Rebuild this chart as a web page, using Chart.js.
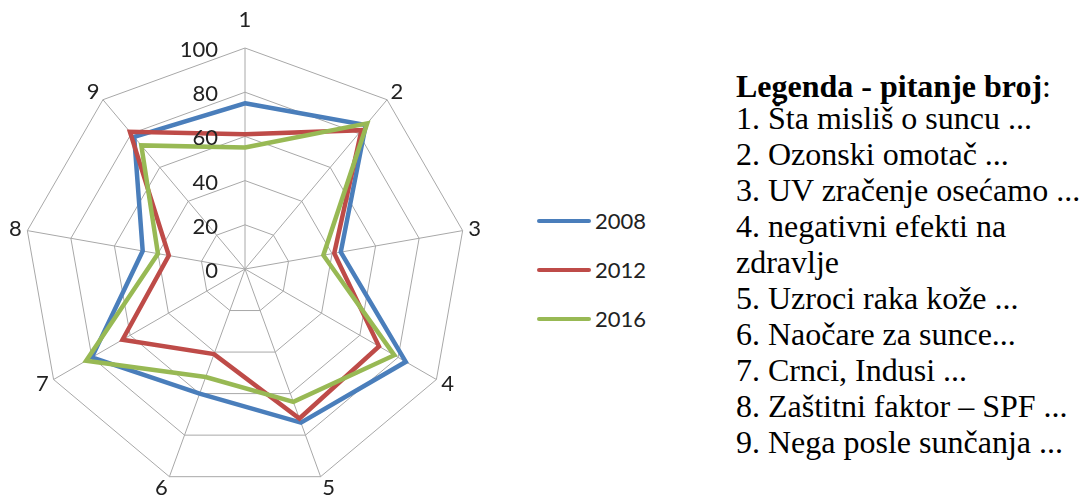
<!DOCTYPE html>
<html>
<head>
<meta charset="utf-8">
<script src="https://cdn.jsdelivr.net/npm/chart.js@4.4.1/dist/chart.umd.min.js"></script>
<style>
  html, body { margin: 0; padding: 0; background: #ffffff; }
  body { width: 1085px; height: 498px; position: relative; overflow: hidden; }
  #wrap { position: absolute; left: 0; top: 0; width: 500px; height: 498px; }
  #legend { position: absolute; left: 537px; top: 0; font-family: Lato, "Open Sans", sans-serif; font-size: 22px; color: #222; }
  .lg-row { position: absolute; left: 0; height: 30px; width: 130px; }
  .lg-line { position: absolute; left: 0; top: 13px; width: 54px; height: 4px; border-radius: 2px; }
  .lg-text { position: absolute; left: 58px; top: 0; line-height: 30px; white-space: nowrap; }
  #notes { position: absolute; left: 736px; top: 0; font-family: "Liberation Serif", "Times New Roman", serif; font-size: 32px; color: #000; }
  #notes .head { position: absolute; left: 0; top: 68px; line-height: 36px; white-space: nowrap; }
  #notes .list { position: absolute; left: 0; top: 100px; line-height: 36px; white-space: nowrap; }
</style>
</head>
<body>
<div id="wrap"><canvas id="c" width="500" height="498"></canvas></div>
<div id="legend"></div>
<div id="notes"></div>
<script>
// ---- data ----
const categories = ["1", "2", "3", "4", "5", "6", "7", "8", "9"];
const seriesNames = ["2008", "2012", "2016"];
const values2008 = [75, 85, 44, 84, 74, 60, 80, 47, 78];
const values2012 = [61, 82, 41, 70, 72, 41, 64, 35, 81];
const values2016 = [55, 86, 36, 78, 64, 52, 83, 40, 73];
const tickValues = [0, 20, 40, 60, 80, 100];
const notesTitle = "Legenda - pitanje broj";
const notesLines = [
  "1. Šta misliš o suncu ...",
  "2. Ozonski omotač ...",
  "3. UV zračenje osećamo ...",
  "4. negativni efekti na",
  "zdravlje",
  "5. Uzroci raka kože ...",
  "6. Naočare za sunce...",
  "7. Crnci, Indusi ...",
  "8. Zaštitni faktor – SPF ...",
  "9. Nega posle sunčanja ..."
];

const colors = ["#4A7EBB", "#BE4B48", "#98B954"];
const seriesValues = [values2008, values2012, values2016];
const labelFont = '22px Lato, "Open Sans", sans-serif';

// custom labels drawn from the library's radial scale
const labelPlugin = {
  id: 'labelPlugin',
  afterDraw(chart) {
    const scale = chart.scales.r;
    const ctx = chart.ctx;
    ctx.save();
    ctx.font = labelFont;
    ctx.fillStyle = '#222';
    ctx.textAlign = 'right';
    ctx.textBaseline = 'middle';
    tickValues.forEach(v => {
      const d = scale.getDistanceFromCenterForValue(v);
      ctx.fillText(String(v), scale.xCenter - 27, scale.yCenter - d + 2);
    });
    ctx.textAlign = 'center';
    categories.forEach((lab, i) => {
      const p = scale.getPointPosition(i, scale.drawingArea);
      const th = i * 2 * Math.PI / categories.length;
      const s = Math.sin(th), c = Math.cos(th);
      let dx, dy;
      if (i === 0) { dx = 0; dy = -28; }
      else {
        dx = Math.sign(s) * (6 + 6 * Math.abs(s));
        dy = -c * (7 + 5 * Math.abs(c));
      }
      ctx.fillText(lab, p.x + dx, p.y + dy);
    });
    ctx.restore();
  }
};

const datasets = seriesNames.map((name, i) => ({
  label: name,
  data: seriesValues[i],
  borderColor: colors[i],
  backgroundColor: colors[i],
  borderWidth: 4.5,
  pointRadius: 0,
  pointHoverRadius: 0,
  fill: false,
  tension: 0,
  order: seriesNames.length - i
}));

new Chart(document.getElementById('c'), {
  type: 'radar',
  data: { labels: categories, datasets },
  options: {
    responsive: false,
    devicePixelRatio: 1,
    animation: false,
    layout: { padding: { left: 24, top: 48, right: 34, bottom: 8 } },
    plugins: { legend: { display: false }, tooltip: { enabled: false } },
    elements: { line: { borderJoinStyle: 'miter' } },
    scales: {
      r: {
        min: 0, max: 100,
        ticks: { display: false, stepSize: 20 },
        grid: { color: '#A8A8A8', lineWidth: 1 },
        angleLines: { color: '#A8A8A8', lineWidth: 1 },
        pointLabels: { display: false }
      }
    }
  },
  plugins: [labelPlugin]
});

// series legend
const legend = document.getElementById('legend');
const rowCenters = [221, 270, 319];
seriesNames.forEach((name, i) => {
  const row = document.createElement('div');
  row.className = 'lg-row';
  row.style.top = (rowCenters[i] - 15) + 'px';
  const ln = document.createElement('div');
  ln.className = 'lg-line';
  ln.style.background = colors[i];
  const tx = document.createElement('div');
  tx.className = 'lg-text';
  tx.textContent = name;
  row.appendChild(ln); row.appendChild(tx);
  legend.appendChild(row);
});

// notes
const notes = document.getElementById('notes');
const head = document.createElement('div');
head.className = 'head';
const b = document.createElement('b');
b.textContent = notesTitle;
head.appendChild(b);
head.appendChild(document.createTextNode(':'));
notes.appendChild(head);
const list = document.createElement('div');
list.className = 'list';
notesLines.forEach(t => {
  const d = document.createElement('div');
  d.textContent = t;
  list.appendChild(d);
});
notes.appendChild(list);
</script>
</body>
</html>
